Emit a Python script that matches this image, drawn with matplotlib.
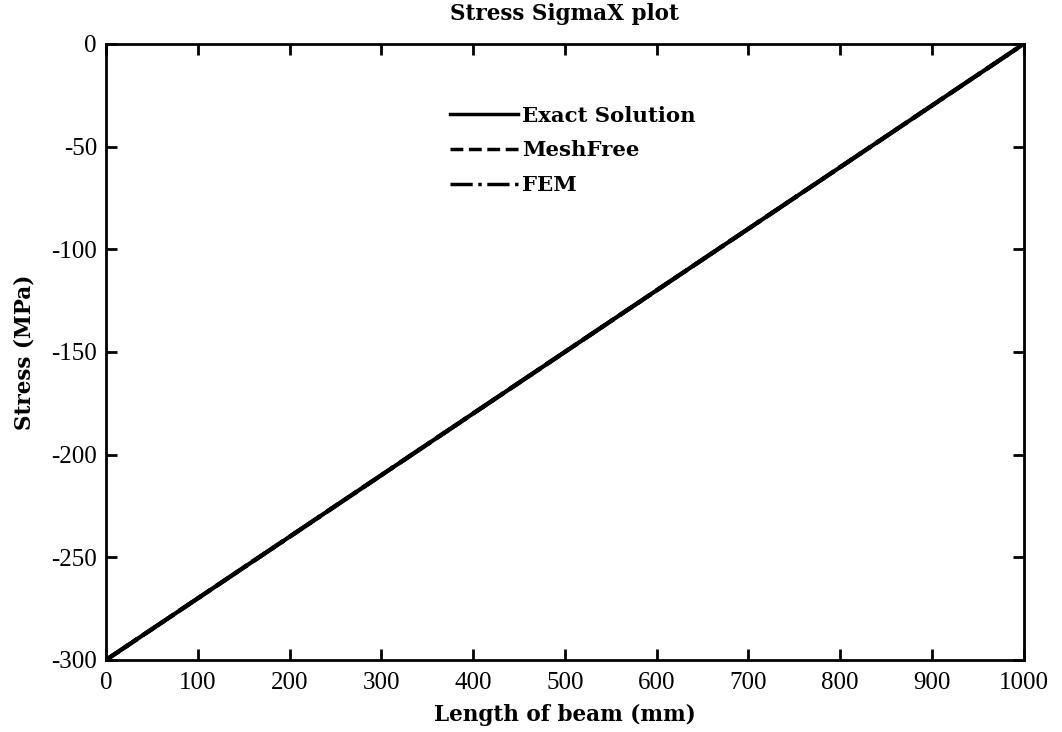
import matplotlib.pyplot as plt

# Stress along beam length
x_exact = [0, 1000]
y_exact = [-300, 0]

x_mesh = [0, 100, 200, 300, 400, 500, 600, 700, 800, 900, 1000]
y_mesh = [-300, -270, -240, -210, -180, -150, -120, -90, -60, -30, 0]

x_fem = [0, 100, 200, 300, 400, 500, 600, 700, 800, 900, 1000]
y_fem = [-300, -270, -240, -210, -180, -150, -120, -90, -60, -30, 0]

plt.rcParams['font.family'] = ['DejaVu Serif']
plt.rcParams['axes.unicode_minus'] = False

fig = plt.figure(figsize=(10.62, 7.32), dpi=100)
ax = fig.add_axes([0.0998, 0.0984, 0.8642, 0.8416])

ax.plot(x_exact, y_exact, 'k-', lw=3, label='Exact Solution')
ax.plot(x_mesh, y_mesh, 'k--', lw=3, label='MeshFree')
ax.plot(x_fem, y_fem, 'k-.', lw=3, label='FEM')

ax.set_xlim(0, 1000)
ax.set_ylim(-300, 0)
ax.set_xticks(range(0, 1001, 100))
ax.set_yticks(range(-300, 1, 50))
ax.tick_params(direction='in', length=8, width=2, top=True, right=True)
ax.tick_params(axis='x', pad=9)
ax.tick_params(axis='y', pad=6.5)
for lab in ax.get_xticklabels() + ax.get_yticklabels():
    lab.set_fontfamily('Liberation Serif')
    lab.set_fontsize(18)
for s in ax.spines.values():
    s.set_linewidth(2)

ax.set_xlabel('Length of beam (mm)', fontsize=15.5, fontweight='bold', labelpad=7)
ax.set_ylabel('Stress (MPa)', fontsize=15.5, fontweight='bold', labelpad=11)
ax.set_title('Stress SigmaX plot', fontsize=15.5, fontweight='bold', pad=17)

leg = ax.legend(loc='upper left', bbox_to_anchor=(0.354, 0.931), frameon=False,
                handlelength=3.2, handletextpad=0.2, labelspacing=0.7,
                prop={'weight': 'bold', 'size': 15.3})
for h in leg.get_lines():
    h.set_linewidth(2.5)

fig.savefig('out.png', dpi=100)
